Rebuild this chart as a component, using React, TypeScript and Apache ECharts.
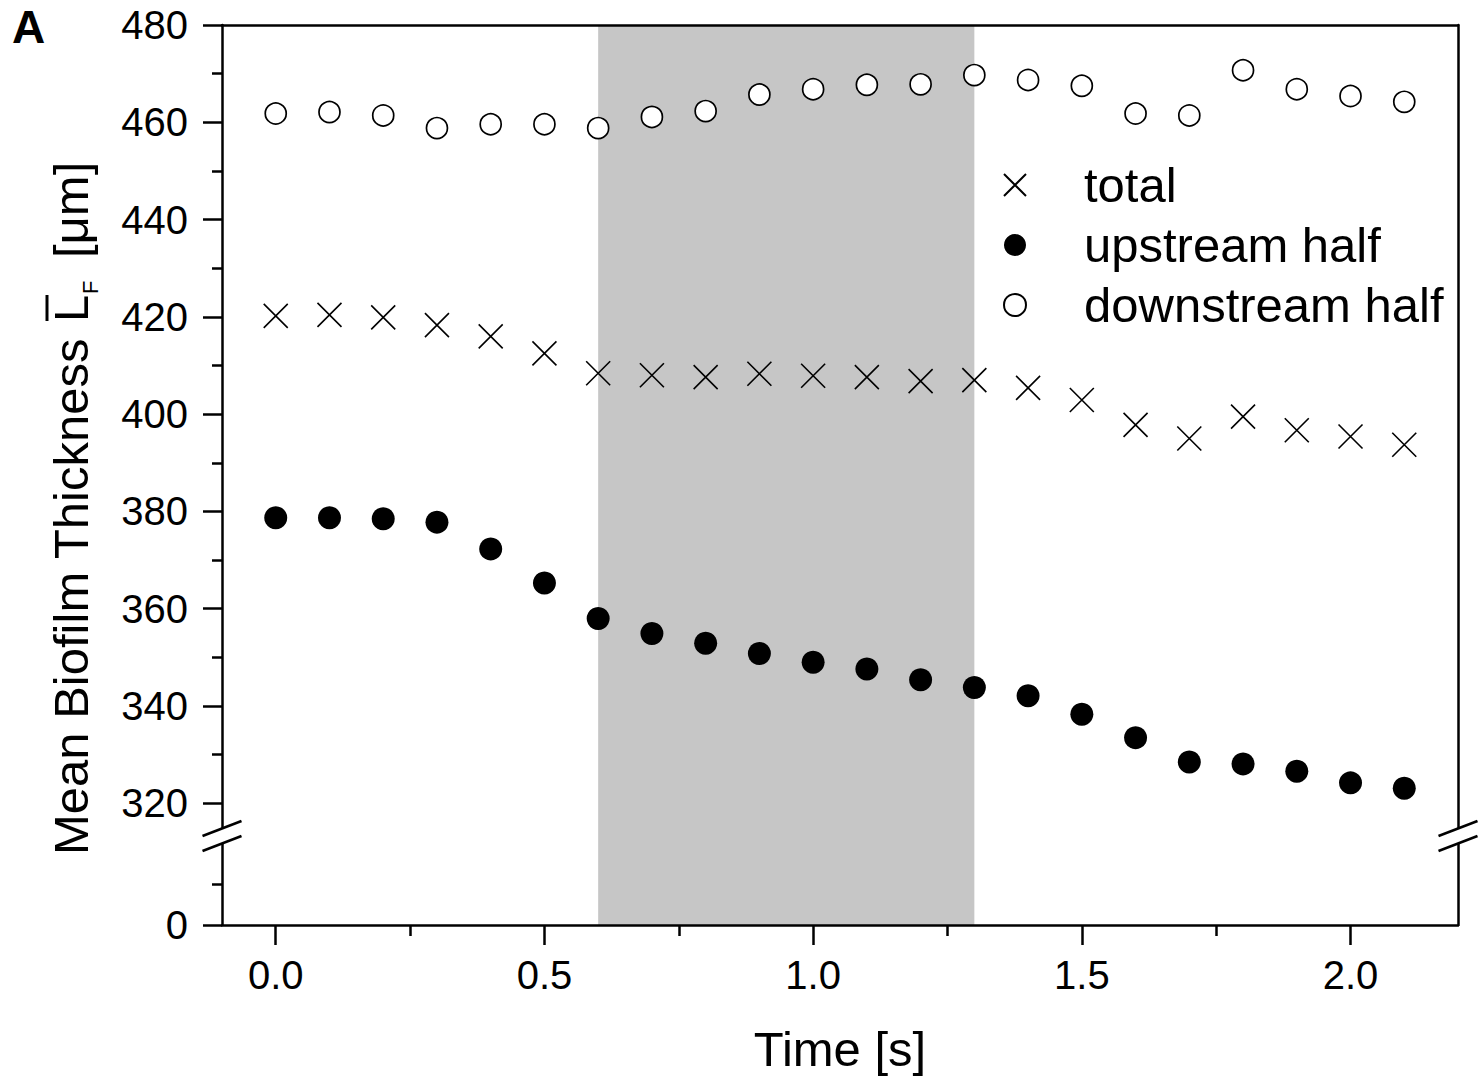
import React, { useEffect, useRef } from "react";
import * as echarts from "echarts";

const times = [0, 0.1, 0.2, 0.3, 0.4, 0.5, 0.6, 0.7, 0.8, 0.9, 1.0, 1.1, 1.2, 1.3, 1.4, 1.5, 1.6, 1.7, 1.8, 1.9, 2.0, 2.1];
const totalValues = [420.2, 420.4, 419.9, 418.3, 416.0, 412.5, 408.4, 408.0, 407.6, 408.3, 407.9, 407.6, 406.8, 407.0, 405.4, 402.9, 397.8, 395.0, 399.5, 396.7, 395.4, 393.7];
const upstreamValues = [378.7, 378.7, 378.5, 377.8, 372.3, 365.3, 358.0, 354.9, 352.9, 350.8, 349.0, 347.6, 345.4, 343.8, 342.1, 338.3, 333.5, 328.5, 328.1, 326.6, 324.2, 323.1];
const downstreamValues = [461.8, 462.1, 461.4, 458.8, 459.6, 459.6, 458.8, 461.1, 462.3, 465.7, 466.8, 467.7, 467.8, 469.7, 468.7, 467.5, 461.8, 461.4, 470.7, 466.8, 465.4, 464.2];
const seriesNames = ["total", "upstream half", "downstream half"];
const xMajorTicks = [0, 0.5, 1.0, 1.5, 2.0];
const xMinorTicks = [0.25, 0.75, 1.25, 1.75];
const upperYMin = 320;
const upperYMax = 480;
const upperYStep = 20;
const lowerYMax = 20;
const lowerMajorTicks = [0];
const lowerMinorTicks = [10];
const shadeRange = [[0.6, 1.3]];
const xMin = -0.1;
const xMax = 2.2;

const FONT = "Liberation Sans";
const BLACK = "#000";
const LW = 2.5;

export default function App() {
  const ref = useRef<HTMLDivElement>(null);
  useEffect(() => {
    if (!ref.current) return;
    const chart = echarts.init(ref.current, null, { renderer: "svg" });
    const pair = (vals: number[]) => times.map((t, i) => [t, vals[i]]);
    const L = 222, R = 1458;
    const breakLines = (cx: number) => {
      const x0 = cx - 19.5, x1 = cx + 19.5;
      return [
        { type: "polygon", z: 100, shape: { points: [[x0, 836], [x1, 821], [x1, 836], [x0, 851]] }, style: { fill: "#fff", stroke: null } },
        { type: "line", z: 101, shape: { x1: x0, y1: 836, x2: x1, y2: 821 }, style: { stroke: BLACK, lineWidth: LW } },
        { type: "line", z: 101, shape: { x1: x0, y1: 851, x2: x1, y2: 836 }, style: { stroke: BLACK, lineWidth: LW } },
      ];
    };
    const hiddenLine = { show: false, onZero: false };
    const option: any = {
      animation: false,
      backgroundColor: "#fff",
      textStyle: { fontFamily: FONT, color: BLACK },
      grid: [
        { left: L, top: 25, width: R - L, height: 778.3 },
        { left: L, top: 843, width: R - L, height: 82 },
        { left: L, top: 25, width: R - L, height: 900 },
      ],
      xAxis: [
        { gridIndex: 0, type: "value", min: xMin, max: xMax, show: false, axisLine: hiddenLine },
        { gridIndex: 1, type: "value", min: xMin, max: xMax, show: false, axisLine: hiddenLine },
        {
          gridIndex: 2, type: "value", position: "bottom", min: xMin, max: xMax, z: 5,
          axisLine: { show: true, onZero: false, lineStyle: { color: BLACK, width: LW } },
          axisTick: { show: true, customValues: xMajorTicks, length: 20, lineStyle: { color: BLACK, width: LW } },
          axisLabel: { show: true, customValues: xMajorTicks, formatter: (v: number) => v.toFixed(1), fontSize: 40, margin: 30, color: BLACK, fontFamily: FONT },
          splitLine: { show: false },
          name: "Time [s]", nameLocation: "middle", nameGap: 99,
          nameTextStyle: { fontSize: 49, color: BLACK, fontFamily: FONT },
        },
        {
          gridIndex: 2, type: "value", position: "bottom", min: xMin, max: xMax, z: 5,
          axisLine: hiddenLine,
          axisTick: { show: true, customValues: xMinorTicks, length: 11, lineStyle: { color: BLACK, width: LW } },
          axisLabel: { show: false },
          splitLine: { show: false },
        },
        {
          gridIndex: 2, type: "value", position: "top", min: xMin, max: xMax, z: 5,
          axisLine: { show: true, onZero: false, lineStyle: { color: BLACK, width: LW } },
          axisTick: { show: false }, axisLabel: { show: false }, splitLine: { show: false },
        },
      ],
      yAxis: [
        {
          gridIndex: 0, type: "value", position: "left", min: upperYMin, max: upperYMax, interval: upperYStep, z: 5,
          axisLine: hiddenLine,
          axisTick: { show: true, length: 19, lineStyle: { color: BLACK, width: LW } },
          minorTick: { show: true, splitNumber: 2, length: 10, lineStyle: { color: BLACK, width: LW } },
          axisLabel: { fontSize: 40, margin: 34, color: BLACK, fontFamily: FONT },
          splitLine: { show: false }, minorSplitLine: { show: false },
        },
        {
          gridIndex: 1, type: "value", position: "left", min: 0, max: lowerYMax, z: 5,
          axisLine: hiddenLine,
          axisTick: { show: true, customValues: lowerMajorTicks, length: 19, lineStyle: { color: BLACK, width: LW } },
          axisLabel: { show: true, customValues: lowerMajorTicks, fontSize: 40, margin: 34, color: BLACK, fontFamily: FONT },
          splitLine: { show: false },
        },
        {
          gridIndex: 1, type: "value", position: "left", min: 0, max: lowerYMax, z: 5,
          axisLine: hiddenLine,
          axisTick: { show: true, customValues: lowerMinorTicks, length: 10, lineStyle: { color: BLACK, width: LW } },
          axisLabel: { show: false },
          splitLine: { show: false },
        },
        {
          gridIndex: 2, type: "value", position: "left", min: 0, max: 1, z: 5,
          axisLine: { show: true, onZero: false, lineStyle: { color: BLACK, width: LW } },
          axisTick: { show: false }, axisLabel: { show: false }, splitLine: { show: false },
        },
        {
          gridIndex: 2, type: "value", position: "right", min: 0, max: 1, z: 5,
          axisLine: { show: true, onZero: false, lineStyle: { color: BLACK, width: LW } },
          axisTick: { show: false }, axisLabel: { show: false }, splitLine: { show: false },
        },
      ],
      legend: {
        data: seriesNames,
        orient: "vertical",
        left: 998,
        top: 155.5,
        itemWidth: 128,
        itemHeight: 22,
        itemGap: 11,
        selectedMode: false,
        textStyle: { fontSize: 49, color: BLACK, fontFamily: FONT },
      },
      series: [
        {
          type: "custom",
          name: "shade",
          xAxisIndex: 2,
          yAxisIndex: 3,
          z: 1,
          silent: true,
          data: shadeRange,
          renderItem: (params: any, api: any) => {
            const p0 = api.coord([api.value(0), 1]);
            const p1 = api.coord([api.value(1), 0]);
            return { type: "rect", shape: { x: p0[0], y: p0[1], width: p1[0] - p0[0], height: p1[1] - p0[1] }, style: { fill: "#c6c6c6" } };
          },
        },
        {
          type: "scatter", name: seriesNames[0], xAxisIndex: 0, yAxisIndex: 0, z: 3,
          symbol: "path://M0,0L24,24M24,0L0,24", symbolSize: 24,
          itemStyle: { color: "rgba(0,0,0,0)", borderColor: BLACK, borderWidth: 1.6, opacity: 1 },
          data: pair(totalValues),
        },
        {
          type: "scatter", name: seriesNames[1], xAxisIndex: 0, yAxisIndex: 0, z: 3,
          symbol: "circle", symbolSize: 23,
          itemStyle: { color: BLACK, opacity: 1 },
          data: pair(upstreamValues),
        },
        {
          type: "scatter", name: seriesNames[2], xAxisIndex: 0, yAxisIndex: 0, z: 3,
          symbol: "circle", symbolSize: 21,
          itemStyle: { color: "#fff", borderColor: BLACK, borderWidth: 1.7, opacity: 1 },
          data: pair(downstreamValues),
        },
      ],
      graphic: [
        { type: "text", z: 100, x: 12, y: 4, style: { text: "A", fontSize: 46, fontWeight: "bold", fontFamily: FONT, fill: BLACK, align: "left", verticalAlign: "top" } },
        {
          type: "group", z: 100, x: 88, y: 855, rotation: Math.PI / 2,
          children: [
            { type: "text", x: 0, y: -17, style: { text: "Mean Biofilm Thickness", fontSize: 49, fontFamily: FONT, fill: BLACK, align: "left", verticalAlign: "middle" } },
            { type: "text", x: 533, y: -17, style: { text: "L", fontSize: 49, fontFamily: FONT, fill: BLACK, align: "left", verticalAlign: "middle" } },
            { type: "line", shape: { x1: 534, y1: -41, x2: 560, y2: -41 }, style: { stroke: BLACK, lineWidth: 3 } },
            { type: "text", x: 561, y: 2.4, style: { text: "F", fontSize: 22, fontFamily: FONT, fill: BLACK, align: "left", verticalAlign: "middle" } },
            { type: "text", x: 597, y: -17, style: { text: "[μm]", fontSize: 49, fontFamily: FONT, fill: BLACK, align: "left", verticalAlign: "middle" } },
          ],
        },
        ...breakLines(L),
        ...breakLines(R),
      ],
    };
    chart.setOption(option);
    return () => chart.dispose();
  }, []);
  return <div ref={ref} style={{ position: "absolute", left: 0, top: 0, width: 1478, height: 1081 }} />;
}
